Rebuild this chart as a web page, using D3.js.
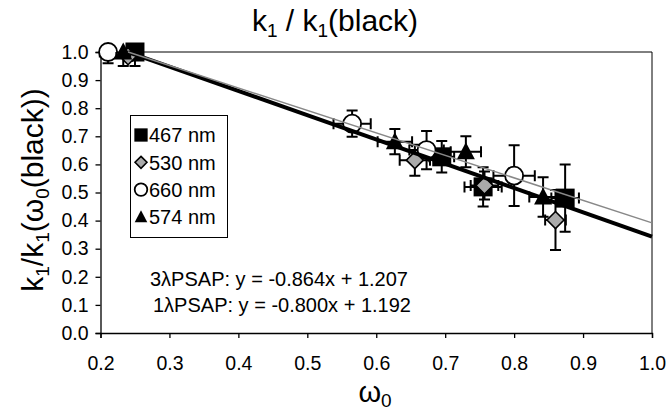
<!DOCTYPE html>
<html><head><meta charset="utf-8">
<script src="https://cdn.jsdelivr.net/npm/d3@7"></script>
<style>body{margin:0;background:#fff}svg{display:block}text{font-family:"Liberation Sans",Arial,sans-serif;fill:#000}</style>
</head><body><svg id="c" width="668" height="412"></svg>
<script>
// Data: [omega0, k-ratio, xErr, yErr]
const s467 = [[0.250,1.000,0.010,0.050],[0.695,0.627,0.018,0.056],[0.755,0.520,0.027,0.070],[0.874,0.480,0.020,0.120]];
const s530 = [[0.240,0.985,0.006,0.000],[0.656,0.615,0.022,0.055],[0.757,0.525,0.020,0.050],[0.860,0.402,0.015,0.107]];
const s660 = [[0.211,1.000,0.012,0.040],[0.565,0.745,0.027,0.047],[0.673,0.651,0.025,0.068],[0.800,0.560,0.030,0.108]];
const s574 = [[0.233,1.000,0.010,0.050],[0.627,0.681,0.025,0.045],[0.730,0.645,0.022,0.055],[0.842,0.484,0.020,0.070]];
const seriesNames = ["467 nm","530 nm","660 nm","574 nm"];
const fit3 = {slope:-0.864, icpt:1.207, label:"3\u03BBPSAP: y = -0.864x + 1.207"};
const fit1 = {slope:-0.800, icpt:1.192, label:"1\u03BBPSAP: y = -0.800x + 1.192"};
const fitRange = [0.24, 1.0];
const xTicks = [0.2,0.3,0.4,0.5,0.6,0.7,0.8,0.9,1.0];
const yTicks = [0.0,0.1,0.2,0.3,0.4,0.5,0.6,0.7,0.8,0.9,1.0];

const svg = d3.select("#c");
const L=100.5, R=652, T=52, B=333;
const x = d3.scaleLinear().domain([0.2,1.0]).range([L,R]);
const y = d3.scaleLinear().domain([0,1]).range([B,T]);

svg.append("defs").append("clipPath").attr("id","pc").append("rect")
  .attr("x",L-20).attr("y",T).attr("width",R-L+40).attr("height",B-T);

// frame
svg.append("path").attr("d",`M${L},${T}H${R}V${B}`).attr("fill","none").attr("stroke","#000").attr("stroke-width",1);

const xa = svg.append("g").attr("transform",`translate(0,${B})`)
  .call(d3.axisBottom(x).tickValues(xTicks).tickFormat(d3.format(".1f")).tickSize(5).tickPadding(18));
const ya = svg.append("g").attr("transform",`translate(${L},0)`)
  .call(d3.axisLeft(y).tickValues(yTicks).tickFormat(d3.format(".1f")).tickSize(5).tickPadding(7));
[xa,ya].forEach(a=>{a.selectAll("text").attr("font-size",19.5).attr("font-family","Liberation Sans, Arial, sans-serif");
  a.select(".domain").attr("stroke","#000").attr("stroke-width",1.3);
  a.selectAll(".tick line").attr("stroke","#000").attr("stroke-width",1.3);});

// shapes
function drawMarker(g, type, cx, cy, sc){
  if(type===0) g.append("rect").attr("x",cx-9.5*sc).attr("y",cy-9.5*sc).attr("width",19*sc).attr("height",19*sc).attr("fill","#000");
  else if(type===1) g.append("path").attr("d",`M${cx},${cy-8.5*sc}L${cx+8.5*sc},${cy}L${cx},${cy+8.5*sc}L${cx-8.5*sc},${cy}Z`).attr("fill","#aaa").attr("stroke","#000").attr("stroke-width",1.6);
  else if(type===2) g.append("circle").attr("cx",cx).attr("cy",cy).attr("r",9*sc).attr("fill","#fff").attr("stroke","#000").attr("stroke-width",1.8);
  else g.append("path").attr("d",`M${cx},${cy-9.5*sc}L${cx+9*sc},${cy+7.5*sc}L${cx-9*sc},${cy+7.5*sc}Z`).attr("fill","#000");
}

const all = [s467,s530,s660,s574];
const cap = 5.5;
all.forEach((ser,si)=>{
  const g = svg.append("g");
  const eb = g.append("g").attr("clip-path","url(#pc)").attr("stroke","#000").attr("stroke-width",2).attr("fill","none");
  ser.forEach(d=>{
    const cx=x(d[0]), cy=y(d[1]);
    if(d[3]>0){
      const y1=y(d[1]+d[3]), y2=y(d[1]-d[3]);
      eb.append("path").attr("d",`M${cx},${y1}V${y2}M${cx-cap},${y1}H${cx+cap}M${cx-cap},${y2}H${cx+cap}`);
    }
    if(d[2]>0){
      const x1=x(d[0]-d[2]), x2=x(d[0]+d[2]);
      eb.append("path").attr("d",`M${x1},${cy}H${x2}M${x1},${cy-cap}V${cy+cap}M${x2},${cy-cap}V${cy+cap}`);
    }
  });
  ser.forEach(d=>drawMarker(g, si, x(d[0]), y(d[1]), 1));
});

// fit lines
const line = d3.line().x(d=>x(d[0])).y(d=>y(d[1]));
const pts = f => fitRange.map(v=>[v, f.slope*v+f.icpt]);
svg.append("path").attr("d",line(pts(fit3))).attr("stroke","#000").attr("stroke-width",4).attr("fill","none");
svg.append("path").attr("d",line(pts(fit1))).attr("stroke","#888").attr("stroke-width",1.5).attr("fill","none");

// legend
svg.append("rect").attr("x",130.5).attr("y",115.5).attr("width",97).attr("height",122).attr("fill","#fff").attr("stroke","#000").attr("stroke-width",1);
const lg = svg.append("g");
seriesNames.forEach((n,i)=>{
  const yy = 135 + i*27.3;
  drawMarker(lg, i, 141, yy, 0.7);
  lg.append("text").attr("x",149).attr("y",yy).attr("dy","0.36em").attr("font-size",20).text(n);
});

// equations
svg.append("text").attr("x",150).attr("y",279).attr("dy","0.36em").attr("font-size",20).text(fit3.label);
svg.append("text").attr("x",153).attr("y",305).attr("dy","0.36em").attr("font-size",20).text(fit1.label);

// title
const t = svg.append("text").attr("x",335).attr("y",31).attr("text-anchor","middle").attr("font-size",30);
t.append("tspan").text("k");
t.append("tspan").attr("font-size",19).attr("dy",6).text("1");
t.append("tspan").attr("dy",-6).text(" / k");
t.append("tspan").attr("font-size",19).attr("dy",6).text("1");
t.append("tspan").attr("dy",-6).text("(black)");

// y label
const yl = svg.append("text").attr("transform","translate(43,190) rotate(-90)").attr("text-anchor","middle").attr("font-size",30);
yl.append("tspan").text("k");
yl.append("tspan").attr("font-size",19).attr("dy",6).text("1");
yl.append("tspan").attr("dy",-6).text("/k");
yl.append("tspan").attr("font-size",19).attr("dy",6).text("1");
yl.append("tspan").attr("dy",-6).text("(\u03C9");
yl.append("tspan").attr("font-size",19).attr("dy",6).text("0");
yl.append("tspan").attr("dy",-6).text("(black))");

// x label
const xl = svg.append("text").attr("x",375).attr("y",402).attr("text-anchor","middle").attr("font-size",29).attr("font-family","Liberation Serif, Times New Roman, serif");
xl.append("tspan").text("\u03C9");
xl.append("tspan").attr("font-size",19).attr("font-family","Liberation Sans, Arial, sans-serif").attr("dy",5).text("0");
</script></body></html>
